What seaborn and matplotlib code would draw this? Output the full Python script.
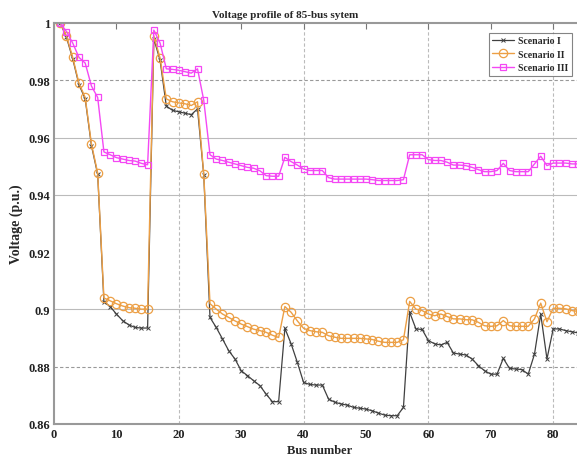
import matplotlib
matplotlib.use('Agg')
import matplotlib.pyplot as plt
import seaborn as sns
import pandas as pd

bus = list(range(1, 86))

scen1 = [1.0000, 0.9950, 0.9875, 0.9785, 0.9735, 0.9572, 0.9472, 0.9027, 0.9010, 0.8984,
         0.8961, 0.8946, 0.8937, 0.8935, 0.8935, 0.9945, 0.9870, 0.9710, 0.9695, 0.9690,
         0.9685, 0.9680, 0.9700, 0.9470, 0.8972, 0.8937, 0.8897, 0.8856, 0.8827, 0.8786,
         0.8769, 0.8751, 0.8734, 0.8704, 0.8678, 0.8678, 0.8934, 0.8880, 0.8815, 0.8745,
         0.8738, 0.8736, 0.8736, 0.8687, 0.8676, 0.8670, 0.8666, 0.8658, 0.8655, 0.8652,
         0.8646, 0.8638, 0.8631, 0.8629, 0.8629, 0.8658, 0.8990, 0.8932, 0.8930, 0.8891,
         0.8880, 0.8876, 0.8885, 0.8848, 0.8844, 0.8841, 0.8827, 0.8804, 0.8786, 0.8774,
         0.8774, 0.8829, 0.8794, 0.8792, 0.8790, 0.8774, 0.8844, 0.8984, 0.8827, 0.8932,
         0.8932, 0.8926, 0.8922, 0.8918, 0.8915]

scen2 = [1.0000, 0.9955, 0.9880, 0.9790, 0.9740, 0.9578, 0.9476, 0.9040, 0.9030, 0.9020,
         0.9012, 0.9006, 0.9004, 0.9001, 0.9001, 0.9955, 0.9878, 0.9735, 0.9725, 0.9721,
         0.9718, 0.9712, 0.9725, 0.9472, 0.9020, 0.9001, 0.8984, 0.8972, 0.8960, 0.8949,
         0.8940, 0.8931, 0.8926, 0.8920, 0.8910, 0.8902, 0.9010, 0.8990, 0.8960, 0.8934,
         0.8926, 0.8922, 0.8920, 0.8908, 0.8903, 0.8899, 0.8899, 0.8899, 0.8899, 0.8897,
         0.8895, 0.8889, 0.8885, 0.8885, 0.8885, 0.8894, 0.9028, 0.9001, 0.8996, 0.8984,
         0.8978, 0.8984, 0.8975, 0.8967, 0.8967, 0.8964, 0.8964, 0.8955, 0.8943, 0.8941,
         0.8943, 0.8961, 0.8943, 0.8941, 0.8941, 0.8941, 0.8967, 0.9022, 0.8957, 0.9004,
         0.9004, 0.9002, 0.8996, 0.8993, 0.8990]

scen3 = [1.0000, 0.9970, 0.9930, 0.9880, 0.9860, 0.9780, 0.9740, 0.9550, 0.9540, 0.9530,
         0.9525, 0.9520, 0.9518, 0.9510, 0.9505, 0.9975, 0.9930, 0.9840, 0.9838, 0.9835,
         0.9830, 0.9825, 0.9840, 0.9730, 0.9540, 0.9525, 0.9520, 0.9514, 0.9508, 0.9502,
         0.9496, 0.9493, 0.9484, 0.9467, 0.9465, 0.9465, 0.9531, 0.9516, 0.9504, 0.9490,
         0.9485, 0.9485, 0.9485, 0.9460, 0.9455, 0.9455, 0.9455, 0.9455, 0.9455, 0.9455,
         0.9453, 0.9450, 0.9450, 0.9450, 0.9450, 0.9453, 0.9540, 0.9540, 0.9540, 0.9523,
         0.9520, 0.9520, 0.9514, 0.9504, 0.9504, 0.9502, 0.9496, 0.9488, 0.9481, 0.9481,
         0.9485, 0.9510, 0.9485, 0.9481, 0.9481, 0.9481, 0.9508, 0.9535, 0.9502, 0.9511,
         0.9511, 0.9511, 0.9508, 0.9508, 0.9508]

labels = ['Scenario I', 'Scenario II', 'Scenario III']
title = 'Voltage profile of 85-bus sytem'
xlabel = 'Bus number'
ylabel = 'Voltage (p.u.)'
xticks = [0, 10, 20, 30, 40, 50, 60, 70, 80]
yticks = [0.86, 0.88, 0.90, 0.92, 0.94, 0.96, 0.98, 1.00]
ytick_labels = ['0.86', '0.88', '0.9', '0.92', '0.94', '0.96', '0.98', '1']

sns.set_theme(style='white')
plt.rcParams['font.family'] = ['Liberation Serif', 'DejaVu Serif']

fig = plt.figure(figsize=(5.77, 4.64), dpi=100)
ax = fig.add_axes([54 / 577, 39 / 464, 530.4 / 577, 401 / 464])

styles = [
    dict(color='#404040', marker='x', markersize=3.5, linewidth=0.9, mec='#404040', mew=0.7, mfc='none'),
    dict(color='#EC9F45', marker='o', markersize=6.0, linewidth=1.0, mec='#EC9F45', mew=0.9, mfc='none'),
    dict(color='#F448F4', marker='s', markersize=4.8, linewidth=1.0, mec='#F448F4', mew=0.9, mfc='none'),
]
series = [scen1, scen2, scen3]
for vals, lab, st in zip(series, labels, styles):
    df = pd.DataFrame({'bus': bus, 'v': vals})
    sns.lineplot(data=df, x='bus', y='v', ax=ax, label=lab, color=st['color'],
                 marker=st['marker'], markersize=st['markersize'], linewidth=st['linewidth'],
                 markeredgecolor=st['mec'], markeredgewidth=st['mew'], markerfacecolor=st['mfc'])

ax.set_xlim(0, 85)
ax.set_ylim(0.86, 1.0)
ax.set_xticks(xticks)
ax.set_xticklabels([str(t) for t in xticks])
ax.set_yticks(yticks)
ax.set_yticklabels(ytick_labels)
ax.tick_params(direction='in', length=4, width=0.8, color='#777777', labelsize=9,
               top=True, right=True, labelcolor='#222222', pad=3)
for lbl in ax.get_xticklabels() + ax.get_yticklabels():
    lbl.set_fontweight('bold')

ax.grid(True, color='#bbbbbb', linewidth=0.8)
for t, v in zip(ax.xaxis.get_major_ticks(), xticks):
    t.gridline.set_visible(v in (20, 40, 60, 80))
    t.gridline.set_linestyle((0, (3, 2)))
for t, v in zip(ax.yaxis.get_major_ticks(), yticks):
    if abs(v - 0.92) < 1e-6 or abs(v - 1.0) < 1e-6 or abs(v - 0.86) < 1e-6:
        t.gridline.set_visible(False)
    elif abs(v - 0.98) < 1e-6 or abs(v - 0.88) < 1e-6:
        t.gridline.set_linestyle((0, (3, 2)))
        t.gridline.set_color('#999999')

for side in ['left', 'bottom', 'top', 'right']:
    ax.spines[side].set_color('#999999')
    ax.spines[side].set_linewidth(1.5)

ax.set_xlabel(xlabel, fontsize=9, fontweight='bold', labelpad=3)
ax.set_ylabel(ylabel, fontsize=10, fontweight='bold', labelpad=4)
fig.text(285 / 577, 1 - 15 / 464, title, ha='center', va='center', fontsize=8, fontweight='bold')

leg = ax.legend(loc='upper right', bbox_to_anchor=(572 / 577, 1 - 34 / 464),
                bbox_transform=fig.transFigure, borderaxespad=0, fancybox=False,
                frameon=True, edgecolor='#666666', fontsize=7, handlelength=2.3,
                borderpad=0.35, labelspacing=0.45, handletextpad=0.4)
leg.get_frame().set_linewidth(0.8)
for txt in leg.get_texts():
    txt.set_fontweight('bold')

fig.savefig('out.png', dpi=100)
